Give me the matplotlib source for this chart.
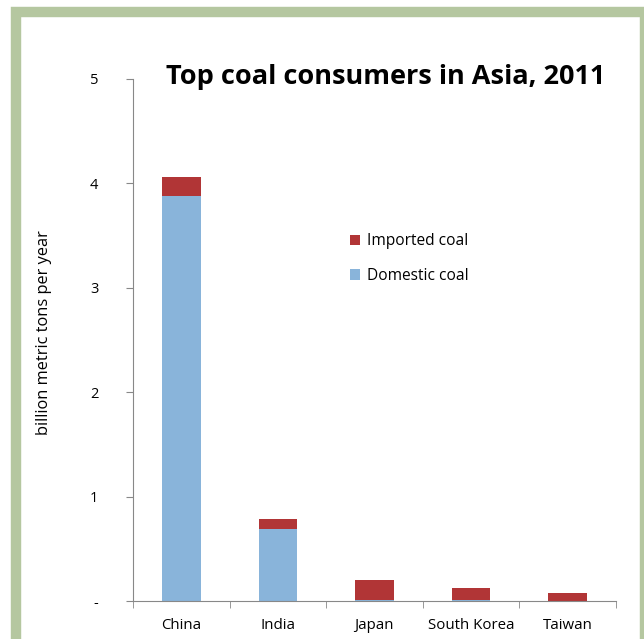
import matplotlib
matplotlib.use("Agg")
import matplotlib.pyplot as plt
from matplotlib.patches import Rectangle
import numpy as np

categories = ["China", "India", "Japan", "South Korea", "Taiwan"]
domestic = [3.88, 0.69, 0.01, 0.012, 0.003]
imported = [0.18, 0.095, 0.19, 0.115, 0.071]
ytick_vals = [0, 1, 2, 3, 4, 5]
ytick_labels = ["-", "1", "2", "3", "4", "5"]

RED = "#b13536"
BLUE = "#89b4da"
FONT = ["Open Sans", "DejaVu Sans"]
plt.rcParams['font.family'] = FONT

fig = plt.figure(figsize=(6.44, 6.39), dpi=100)
fig.patch.set_facecolor("white")
# green frame
fig.patches.append(Rectangle((16/644, -0.2), (645-16)/644, (639-12)/639 + 0.2,
                             transform=fig.transFigure, fill=False,
                             edgecolor="#b5c7a0", linewidth=7.5))

ax = fig.add_axes([133/644, 1-601/639, (615.7-133)/644, (601-79)/639])
x = np.arange(len(categories))
w = 0.40
ax.bar(x, domestic, w, color=BLUE, label="Domestic coal", zorder=2)
ax.bar(x, imported, w, bottom=domestic, color=RED, label="Imported coal", zorder=2)

ax.set_xlim(-0.5, len(categories) - 0.5)
ax.set_ylim(0, 5)
ax.set_yticks(ytick_vals)
ax.set_yticklabels(ytick_labels, fontsize=10.5)
ax.set_xticks(x)
ax.set_xticklabels(categories, fontsize=10.8)
ax.set_xticks(np.arange(-0.5, len(categories)), minor=True)
ax.tick_params(axis='x', which='major', length=0, pad=12)
ax.tick_params(axis='x', which='minor', length=5, color="#888888", direction='out')
ax.tick_params(axis='y', length=5, color="#888888", direction='out', pad=20)
for s in ["top", "right"]:
    ax.spines[s].set_visible(False)
for s in ["left", "bottom"]:
    ax.spines[s].set_color("#888888")

fig.text(44/644, 1-333/639, "billion metric tons per year", fontsize=11.8,
         rotation=90, ha="center", va="center")

fig.text(386/644, 1-77/639, "Top coal consumers in Asia, 2011", fontsize=19.5,
         fontweight="bold", ha="center", va="center")

h, l = ax.get_legend_handles_labels()
leg = ax.legend(h[::-1], l[::-1], loc="upper left", bbox_to_anchor=(0.421, 0.731),
                frameon=False, fontsize=11.2, handlelength=0.65, handleheight=0.65,
                handletextpad=0.4, labelspacing=1.2)

fig.savefig("out.png", dpi=100)
